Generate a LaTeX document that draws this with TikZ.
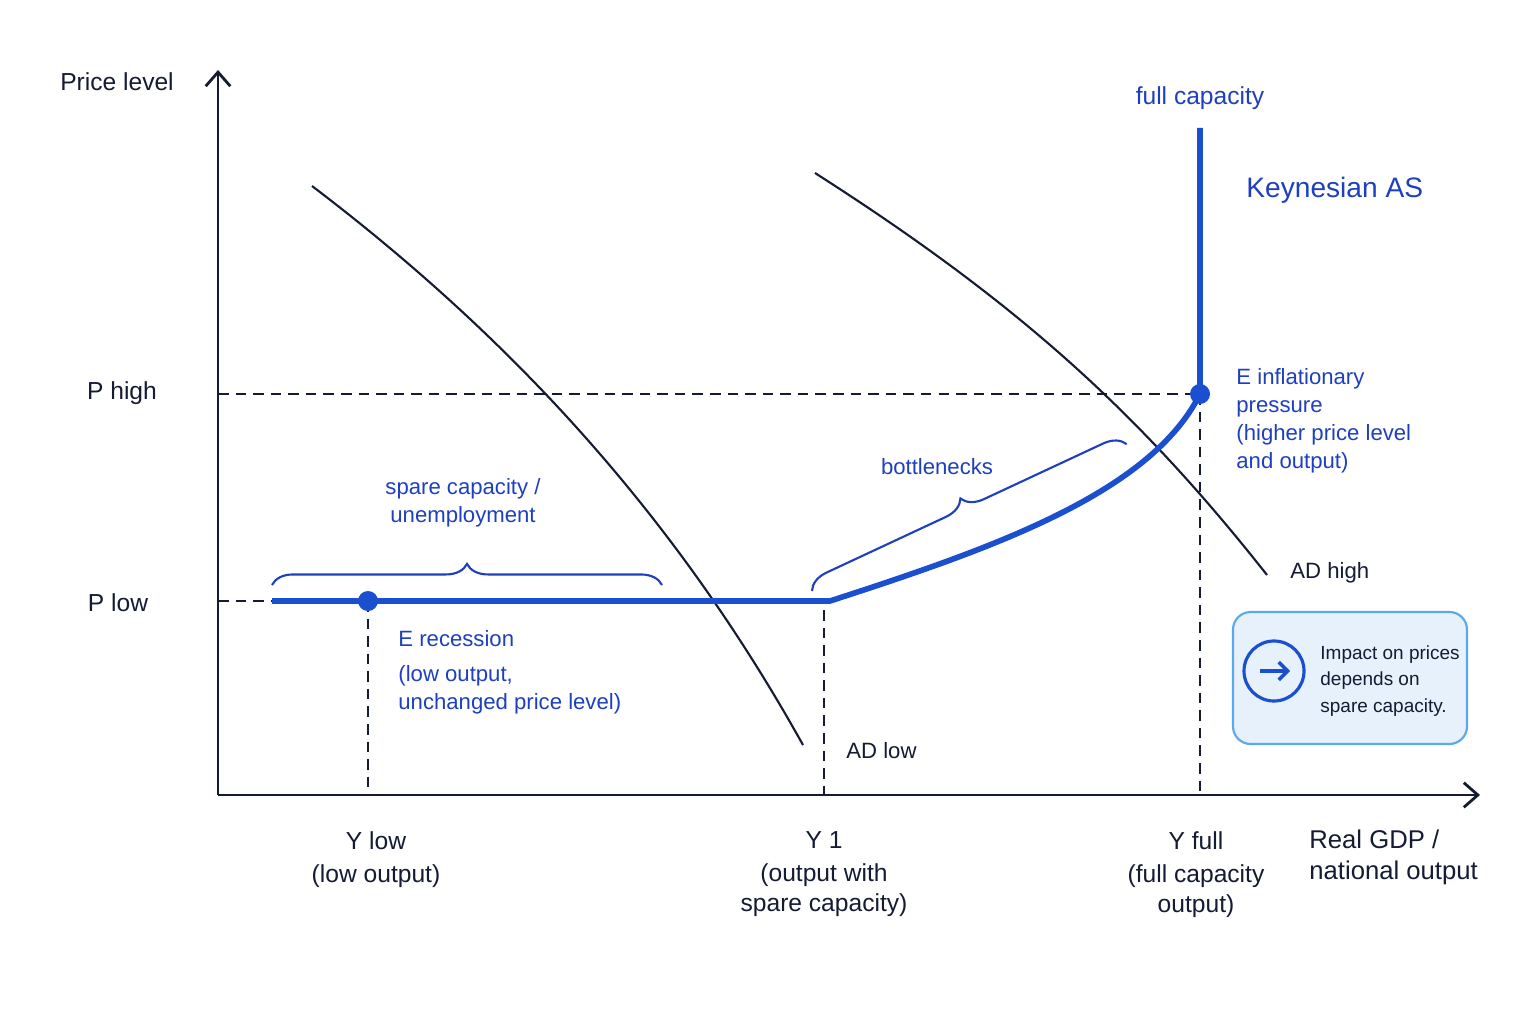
\documentclass[tikz,border=0pt]{standalone}
\usepackage{fontspec}
\setmainfont{Liberation Sans}
\usetikzlibrary{decorations.pathreplacing,arrows.meta,positioning}
\definecolor{navy}{HTML}{141B33}
\definecolor{asblue}{HTML}{1A4FD0}
\definecolor{txtblue}{HTML}{1E40C0}
\definecolor{boxfill}{HTML}{E7F1FC}
\definecolor{boxline}{HTML}{5AA8EE}
\tikzset{
  axislbl/.style={text=navy,font=\fontsize{7}{8.5}\selectfont,align=center},
  bluelbl/.style={text=txtblue,font=\fontsize{6.3}{8}\selectfont,align=left},
  guide/.style={navy,densely dashed,line width=0.45pt},
  adcurve/.style={navy,line width=0.6pt},
  brc/.style={txtblue,line width=0.6pt,decorate,decoration={brace,amplitude=6pt}}
}
\begin{document}
\begin{tikzpicture}
\useasboundingbox (0,0) rectangle (15.36,10.24);
\fill[white] (0,0) rectangle (15.36,10.24);

% axes
\coordinate (O) at (2.18,2.29);
\coordinate (ytop) at (2.18,9.54);
\coordinate (xend) at (14.80,2.29);
\draw[navy,line width=0.8pt,-{Straight Barb[length=4pt,width=7pt]}] (O) -- (ytop);
\draw[navy,line width=0.8pt,-{Straight Barb[length=4pt,width=7pt]}] (O) -- (xend);

% points
\coordinate (Plow) at (2.18,4.23);
\coordinate (Phigh) at (2.18,6.30);
\coordinate (Erec) at (3.68,4.23);
\coordinate (Kink) at (8.30,4.23);
\coordinate (Einf) at (12.00,6.30);

% guides
\draw[guide] (Phigh) -- (Einf);
\draw[guide] (Plow) -- (2.72,4.23);
\draw[guide] (Erec) -- (Erec |- O);
\draw[guide] (8.24,4.14) -- (8.24,2.29);
\draw[guide] (Einf) -- (Einf |- O);

% AD curves
\draw[adcurve] (3.12,8.38) .. controls (5.2,6.8) and (6.8,5.0) .. (8.03,2.79);
\draw[adcurve] (8.15,8.51) .. controls (10.2,7.2) and (11.4,6.1) .. (12.67,4.49);

% Keynesian AS
\draw[asblue,line width=1.6pt] (2.72,4.23) -- (Kink)
  .. controls (9.9,4.75) and (11.5,5.3) .. (Einf) -- (12.00,8.96);
\fill[asblue] (Erec) circle (0.1);
\fill[asblue] (Einf) circle (0.1);

% braces
\draw[brc] (2.72,4.39) -- (6.62,4.39);
\draw[brc] (8.12,4.33) -- (11.27,5.80);

% labels
\node[axislbl] (plvl) at (1.17,9.42) {Price level};
\node[axislbl] (ph) at (1.22,6.31) {P high};
\node[axislbl] (pl) at (1.18,4.21) {P low};
\node[axislbl,anchor=north] (ylow) at (3.76,2.05) {Y low\\[1pt](low output)};
\node[axislbl,anchor=north] (y1) at (8.24,2.05) {Y 1\\[1pt](output with\\spare capacity)};
\node[axislbl,anchor=north] (yfull) at (11.96,2.05) {Y full\\[1pt](full capacity\\output)};
\node[axislbl,align=left,anchor=north west,font=\fontsize{7.3}{9}\selectfont] (rgdp) at (12.97,2.07) {Real GDP /\\national output};
\node[axislbl,anchor=west,font=\fontsize{6.3}{8}\selectfont] (adl) at (8.34,2.73) {AD low};
\node[axislbl,anchor=west,font=\fontsize{6.3}{8}\selectfont] (adh) at (12.78,4.51) {AD high};
\node[bluelbl,font=\fontsize{7}{8}\selectfont] (fc) at (12.00,9.26) {full capacity};
\node[bluelbl,font=\fontsize{8}{10}\selectfont,anchor=west] (kas) at (12.34,8.34) {Keynesian AS};
\node[bluelbl,anchor=north west] (einfl) at (12.24,6.68) {E inflationary\\pressure\\(higher price level\\and output)};
\node[bluelbl,anchor=north west] (erecl) at (3.86,4.06) {E recession\\[2pt](low output,\\unchanged price level)};
\node[bluelbl,align=center] (spare) at (4.63,5.21) {spare capacity /\\unemployment};
\node[bluelbl] (bneck) at (9.37,5.57) {bottlenecks};

% info box
\node[draw=boxline,fill=boxfill,rounded corners=5pt,minimum width=2.34cm,minimum height=1.32cm,line width=0.6pt] (info) at (13.50,3.46) {};
\node[draw=asblue,circle,line width=0.9pt,minimum size=0.6cm] (icon) at (12.74,3.53) {};
\draw[asblue,line width=1pt,-{Straight Barb[length=2.5pt,width=5pt]}] (12.60,3.53) -- (12.90,3.53);
\node[anchor=west,text=navy,font=\fontsize{5.4}{7.6}\selectfont,align=left] (infotxt) at (13.08,3.43) {Impact on prices\\depends on\\spare capacity.};
\end{tikzpicture}
\end{document}
